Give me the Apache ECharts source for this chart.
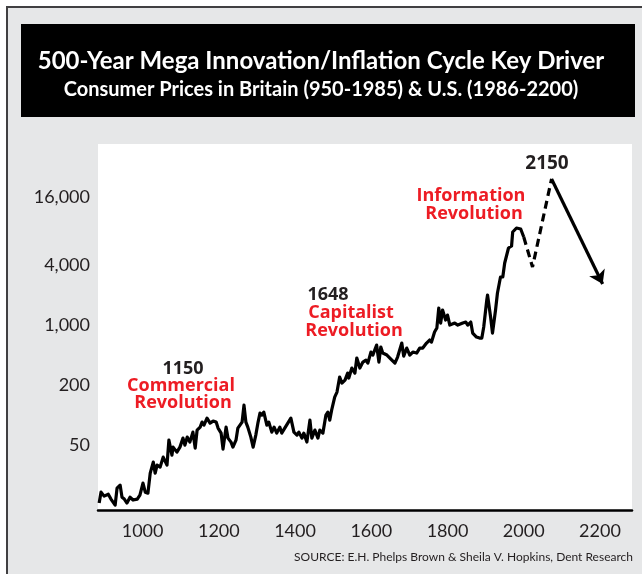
<!DOCTYPE html>
<html>
<head>
<meta charset="utf-8">
<script src="https://cdn.jsdelivr.net/npm/echarts@6/dist/echarts.min.js"></script>
<style>
  body { margin: 0; background: #fff; }
  #chart { width: 642px; height: 574px; }
</style>
</head>
<body>
<div id="chart"></div>
<script>
// consumer price index (axis units, log scale)
const years = [886, 891, 899, 910, 917, 928, 933, 941, 946, 952, 959, 967, 975, 986, 993,
  1001, 1007, 1014, 1020, 1028, 1033, 1038, 1046, 1054, 1064, 1069, 1077, 1080, 1090, 1098,
  1106, 1111, 1117, 1124, 1132, 1138, 1143, 1151, 1156, 1161, 1169, 1177, 1185, 1193, 1198,
  1206, 1211, 1219, 1224, 1232, 1237, 1245, 1250, 1261, 1266, 1271, 1276, 1284, 1290, 1297,
  1303, 1308, 1313, 1318, 1326, 1331, 1339, 1345, 1352, 1360, 1365, 1373, 1381, 1389, 1397,
  1405, 1410, 1418, 1423, 1431, 1439, 1444, 1452, 1460, 1465, 1473, 1481, 1486, 1491, 1496,
  1504, 1510, 1515, 1517, 1523, 1531, 1538, 1541, 1549, 1557, 1562, 1570, 1578, 1586, 1591,
  1599, 1604, 1614, 1620, 1625, 1630, 1641, 1654, 1662, 1669, 1680, 1685, 1693, 1701, 1709,
  1719, 1727, 1735, 1745, 1753, 1758, 1766, 1772, 1777, 1782, 1787, 1795, 1800, 1806, 1811,
  1819, 1827, 1832, 1840, 1848, 1853, 1861, 1866, 1876, 1884, 1890, 1895, 1903, 1905, 1913,
  1918, 1926, 1931, 1939, 1945, 1950, 1960, 1968, 1971, 1981, 1992, 2000];
const prices = [16.8, 21.6, 19.7, 20.6, 18.4, 16, 23.7, 25.4, 19.2, 18.4, 16.8, 19.2, 18.0, 18.4, 20.2,
  26.6, 21.6, 21.1, 33.5, 43.2, 33.5, 40.3, 38.5, 48.5, 40.3, 71.8, 50.8, 61.1, 54.4, 61.1,
  75.2, 64, 77.0, 68.6, 86.4, 59.7, 90.5, 97.0, 108.9, 101.6, 119.4, 106.4, 111.4, 108.9, 94.8,
  84.4, 58.3, 97.0, 75.2, 68.6, 61.1, 71.8, 94.8, 108.9, 161.3, 108.9, 97.0, 77.0, 61.1, 80.6,
  108.9, 134.1, 128, 137.2, 101.6, 108.9, 86.4, 97.0, 84.4, 97.0, 84.4, 94.8, 106.4, 119.4, 86.4,
  80.6, 86.4, 75.2, 84.4, 68.6, 114.0, 75.2, 90.5, 75.2, 90.5, 84.4, 128, 137.2, 114.0, 143.7,
  194.0, 217.8, 212.8, 308.0, 268.1, 287.4, 337.8, 301.0, 379.2, 337.8, 477.7, 379.2, 435.5, 456.1, 425.6,
  548.8, 512, 645.1, 435.5, 616.0, 536.2, 512, 456.1, 425.6, 488.9, 675.6, 500.3, 601.9, 512, 548.8,
  536.2, 601.9, 601.9, 675.6, 724.1, 691.4, 871.1, 955.4, 1516.6, 1072.4, 1448.2, 1149.4, 1290.1, 1024, 977.8,
  1072.4, 1024, 977.8, 1072.4, 1097.5, 1024, 1097.5, 851.1, 776.0, 758.3, 758.3, 977.8, 1824.6, 2048, 1232.0,
  851.1, 1448.2, 2144.9, 3104.2, 3104.2, 4289.7, 6066.6, 6353.3, 8780, 9630, 9410, 7822];

// projected path (dashed) and the down-arrow after the peak
const forecastYears = [2000, 2023, 2073];
const forecastPrices = [7822, 3911, 29900];
const arrowYears = [2073, 2207];
const arrowPrices = [29900, 2640];

const xTicks = [1000, 1200, 1400, 1600, 1800, 2000, 2200];
const yTickValues = [64, 256, 1024, 4096, 19700];
const yTickLabels = ['50', '200', '1,000', '4,000', '16,000'];

const FONT = 'Lato, "Open Sans", sans-serif';
const NOTE_FONT = '"Open Sans", Lato, sans-serif';
const DARK = '#231f20';
const RED = '#ed1c24';

const chart = echarts.init(document.getElementById('chart'));

function note(text, x, y, color, size) {
  return {
    type: 'text', x: x, y: y, z: 100,
    style: {
      text: text, fill: color, font: 'bold ' + size + 'px ' + NOTE_FONT,
      align: 'center', verticalAlign: 'middle'
    }
  };
}

const option = {
  animation: false,
  title: {
    text: '500-Year Mega Innovation/Inflation Cycle Key Driver',
    subtext: 'Consumer Prices in Britain (950-1985) & U.S. (1986-2200)',
    left: 'center',
    top: 44,
    itemGap: 7,
    textStyle: { color: '#fff', fontSize: 24, fontWeight: 'bold', fontFamily: FONT },
    subtextStyle: { color: '#fff', fontSize: 20, fontWeight: 'bold', fontFamily: FONT }
  },
  graphic: [
    {
      type: 'rect', z: -10,
      shape: { x: 7, y: 7, width: 700, height: 650 },
      style: { fill: '#e6e7e8', stroke: '#414042', lineWidth: 2 }
    },
    {
      type: 'rect', z: -5,
      shape: { x: 21, y: 24, width: 614, height: 93 },
      style: { fill: '#000' }
    },
    note('1150', 183, 369, DARK, 18),
    note('Commercial', 181, 386, RED, 18),
    note('Revolution', 183, 403, RED, 18),
    note('1648', 328, 295, DARK, 18),
    note('Capitalist', 351, 313, RED, 18),
    note('Revolution', 354, 331, RED, 18),
    note('2150', 547, 164, DARK, 19),
    note('Information', 471, 196, RED, 18),
    note('Revolution', 474, 214, RED, 18),
    {
      type: 'text', z: 100, x: 633, y: 557,
      style: {
        text: 'SOURCE: E.H. Phelps Brown & Sheila V. Hopkins, Dent Research',
        fill: DARK, font: '12px ' + FONT, align: 'right', verticalAlign: 'middle'
      }
    }
  ],
  grid: {
    left: 98, right: 10, top: 144, bottom: 64,
    show: true, backgroundColor: '#fff', borderWidth: 0
  },
  xAxis: {
    type: 'value',
    min: 883,
    max: 2284,
    axisLine: { show: true, lineStyle: { color: '#000', width: 2.5 } },
    axisTick: { show: false },
    splitLine: { show: false },
    axisLabel: {
      customValues: xTicks,
      color: DARK, fontSize: 18, fontFamily: FONT, margin: 12,
      formatter: v => String(Math.round(v))
    }
  },
  yAxis: {
    type: 'log',
    logBase: 2,
    min: 14.3,
    max: 67000,
    axisLine: { show: false },
    axisTick: { show: false },
    splitLine: { show: false },
    axisLabel: {
      customValues: yTickValues,
      color: DARK, fontSize: 18, fontFamily: FONT, margin: 8,
      formatter: function (v) {
        const i = yTickValues.findIndex(t => Math.abs(Math.log(t / v)) < 0.01);
        return i >= 0 ? yTickLabels[i] : '';
      }
    }
  },
  series: [
    {
      name: 'prices',
      type: 'line',
      showSymbol: false,
      data: years.map((y, i) => [y, prices[i]]),
      lineStyle: { color: '#000', width: 3.2, join: 'round' }
    },
    {
      name: 'forecast',
      type: 'line',
      showSymbol: false,
      data: forecastYears.map((y, i) => [y, forecastPrices[i]]),
      lineStyle: { color: '#000', width: 3.2, type: [8, 5] },
      markLine: {
        silent: true,
        symbol: ['none', 'arrow'],
        symbolSize: 13,
        label: { show: false },
        lineStyle: { color: '#000', width: 3.2, type: 'solid' },
        data: [[
          { coord: [arrowYears[0], arrowPrices[0]] },
          { coord: [arrowYears[1], arrowPrices[1]] }
        ]]
      }
    }
  ]
};

chart.setOption(option);
</script>
</body>
</html>
